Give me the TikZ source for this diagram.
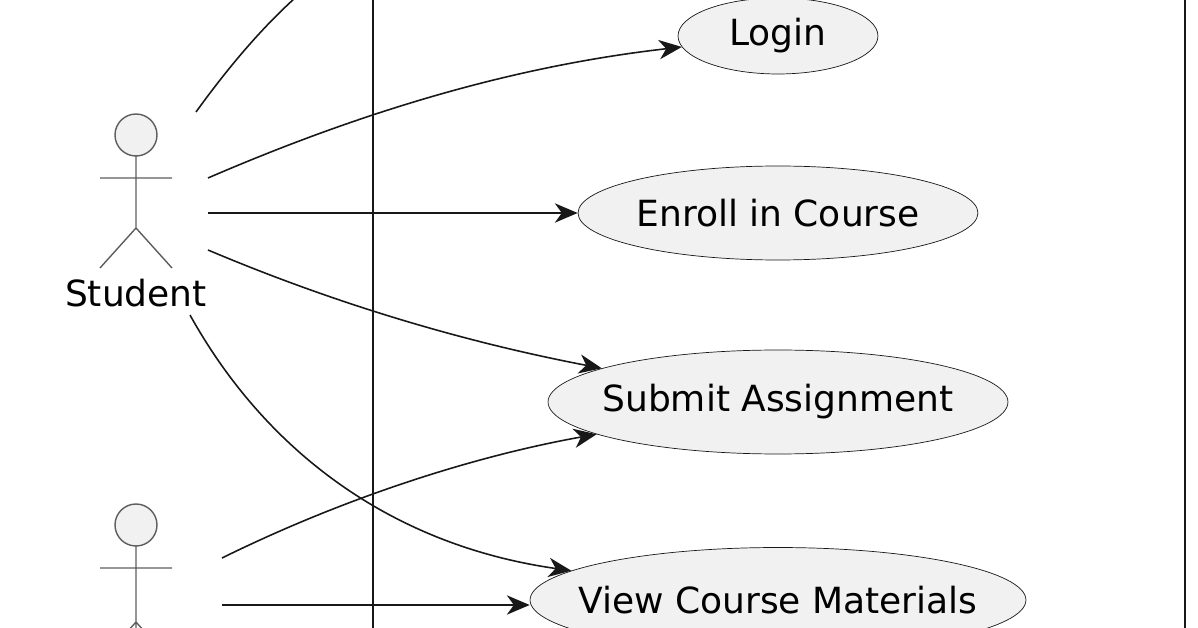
\documentclass[tikz,border=0pt]{standalone}
\usepackage{fontspec}
\setmainfont{DejaVu Sans}
\usetikzlibrary{shapes.geometric,arrows.meta}
\definecolor{ucfill}{HTML}{F1F1F1}
\definecolor{ucline}{HTML}{181818}
\newcommand{\uctext}[1]{\makebox[0pt]{#1}}
\tikzset{
  usecase/.style={draw=ucline, fill=ucfill, ellipse, inner sep=0pt, font=\fontsize{20.5}{24}\selectfont},
  actor/.style={draw=ucline!70, line width=0.8pt},
  link/.style={draw=ucline, line width=0.9pt, -{Stealth[length=13pt,width=11pt,inset=4pt]}},
}
\begin{document}
\begin{tikzpicture}[x=0.02cm, y=-0.02cm]
  \useasboundingbox (0,0) rectangle (1198,628);

  % system boundary
  \draw[ucline, line width=0.9pt] (373,-5) -- (373,633);
  \draw[ucline, line width=0.9pt] (1185,-5) -- (1185,633);

  % use cases
  \node[usecase, minimum width=4cm, minimum height=1.52cm] (login) at (778,36) {\uctext{Login}};
  \node[usecase, minimum width=8cm, minimum height=1.88cm] (enroll) at (778,213) {\uctext{Enroll in Course}};
  \node[usecase, minimum width=9.2cm, minimum height=2.08cm] (submit) at (778,402) {\uctext{Submit Assignment}};
  \node[usecase, minimum width=9.92cm, minimum height=2.1cm] (view) at (778,600) {\uctext{View Course Materials}};

  % student actor
  \filldraw[actor, fill=ucfill] (136,135) circle (21);
  \draw[actor] (136,156) -- (136,228) (100,178) -- (172,178)
               (100,268) -- (136,228) -- (172,268);
  \node[font=\fontsize{20.5}{24}\selectfont] (student) at (136,293) {Student};

  % second actor
  \filldraw[actor, fill=ucfill] (136,525) circle (21);
  \draw[actor] (136,546) -- (136,640) (100,568) -- (172,568)
               (120,640) -- (136,622) -- (152,640);

  % connector ends at actors
  \coordinate (s0) at (196,112);
  \coordinate (s1) at (208,178);
  \coordinate (s2) at (208,213);
  \coordinate (s3) at (208,250);
  \coordinate (s4) at (190,315);
  \coordinate (t1) at (222,558);
  \coordinate (t2) at (222,605);
  \coordinate (top) at (295,-2);

  \draw[ucline, line width=0.9pt] (s0) .. controls (230,65) and (262,28) .. (top);
  \draw[link] (s1) .. controls (400,95) and (550,62) .. (login);
  \draw[link] (s2) -- (enroll);
  \draw[link] (s3) .. controls (350,310) and (480,345) .. (submit);
  \draw[link] (s4) .. controls (265,450) and (390,545) .. (view);
  \draw[link] (t1) .. controls (350,495) and (480,455) .. (submit);
  \draw[link] (t2) -- (view.west |- t2);
\end{tikzpicture}
\end{document}
